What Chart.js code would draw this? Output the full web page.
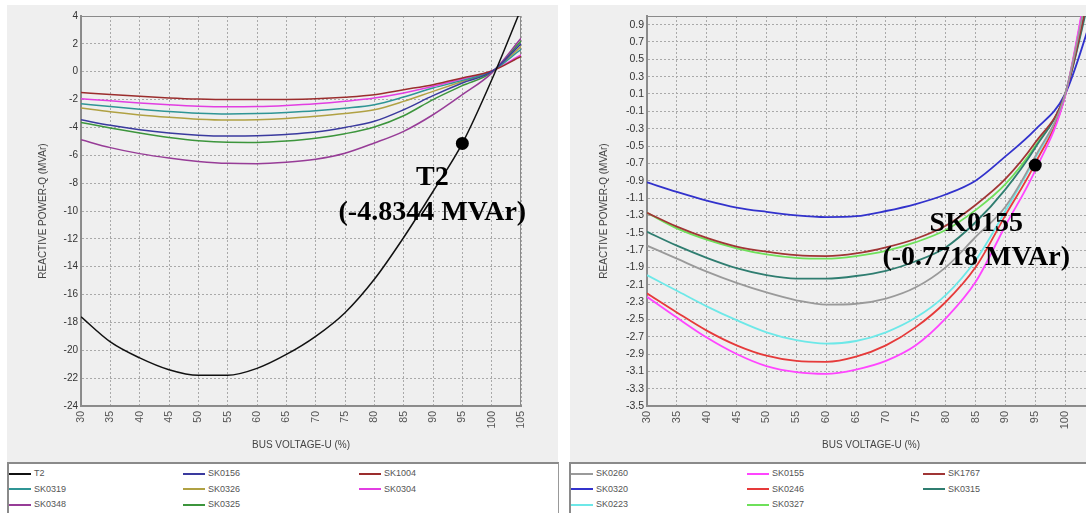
<!DOCTYPE html>
<html>
<head>
<meta charset="utf-8">
<script src="https://cdn.jsdelivr.net/npm/chart.js@4.4.1/dist/chart.umd.min.js"></script>
<style>
  html, body { margin: 0; padding: 0; background: #fff; width: 1086px; height: 513px; overflow: hidden; position: relative; font-family: Arial, "Liberation Sans", sans-serif; }
  .panel { position: absolute; top: 5px; height: 457px; background: #efefef; }
  #leftPanel { left: 7px; width: 551px; }
  #rightPanel { left: 570px; width: 560px; }
  canvas { position: absolute; left: 0; top: 0; }
  .legend { position: absolute; top: 462px; height: 60px; background: #fff; border-top: 2px solid #8a8a8a; border-left: 2px solid #8a8a8a; box-sizing: border-box; }
  #leftLegend { left: 7px; width: 552px; border-right: 1px solid #999; }
  #rightLegend { left: 569px; width: 530px; }
  .item { position: absolute; height: 12px; line-height: 12px; font-size: 9px; color: #555; white-space: nowrap; }
  .swatch { display: inline-block; width: 22px; height: 2px; vertical-align: middle; margin-right: 3px; }
</style>
</head>
<body>
<div class="panel" id="leftPanel"><canvas id="leftChart" width="551" height="457"></canvas></div>
<div class="panel" id="rightPanel"><canvas id="rightChart" width="560" height="457"></canvas></div>
<div class="legend" id="leftLegend"></div>
<div class="legend" id="rightLegend"></div>
<script>
// Tensión de barra (%) - eje X común
const voltages = [30, 35, 40, 45, 50, 55, 60, 65, 70, 75, 80, 85, 90, 95, 100, 105];

// Panel izquierdo (MVAr)
const leftNames = ["T2", "SK0156", "SK1004", "SK0319", "SK0326", "SK0304", "SK0348", "SK0325"];
const leftColors = ["#111111", "#3a3a9e", "#9b2d2d", "#2f9595", "#b0a143", "#e23ee2", "#973c97", "#3c953c"];
const t2     = [-17.6, -19.4, -20.55, -21.4, -21.8, -21.8, -21.3, -20.3, -19.0, -17.3, -14.9, -11.9, -8.6, -5.15, -0.6, 4.5];
const sk0156 = [-3.45, -3.85, -4.16, -4.4, -4.56, -4.62, -4.6, -4.5, -4.33, -4.0, -3.56, -2.73, -1.72, -0.81, 0.0, 2.0];
const sk1004 = [-1.49, -1.64, -1.77, -1.88, -1.96, -2.0, -2.0, -1.99, -1.94, -1.83, -1.65, -1.29, -0.93, -0.45, 0.05, 1.1];
const sk0319 = [-2.3, -2.5, -2.69, -2.86, -2.98, -3.03, -3.0, -2.92, -2.8, -2.62, -2.37, -1.82, -1.17, -0.62, 0.02, 1.6];
const sk0326 = [-2.6, -2.88, -3.1, -3.27, -3.41, -3.47, -3.45, -3.36, -3.2, -3.0, -2.73, -2.13, -1.41, -0.7, 0.0, 1.8];
const sk0304 = [-1.94, -2.09, -2.25, -2.38, -2.48, -2.52, -2.5, -2.42, -2.3, -2.12, -1.89, -1.53, -1.05, -0.53, 0.05, 1.2];
const sk0348 = [-4.88, -5.45, -5.88, -6.2, -6.44, -6.58, -6.6, -6.5, -6.28, -5.85, -5.12, -4.28, -3.09, -1.65, -0.1, 2.4];
const sk0325 = [-3.64, -4.04, -4.4, -4.72, -4.96, -5.07, -5.08, -4.98, -4.78, -4.45, -3.97, -3.16, -2.0, -1.0, -0.05, 2.2];
const leftSeries = [t2, sk0156, sk1004, sk0319, sk0326, sk0304, sk0348, sk0325];
const leftTicks = [4, 2, 0, -2, -4, -6, -8, -10, -12, -14, -16, -18, -20, -22, -24];
const leftMark = { x: 95, y: -5.15 };
const leftLabel = ["T2", "(-4.8344 MVAr)"];

// Panel derecho (MVAr)
const rightNames = ["SK0260", "SK0155", "SK1767", "SK0320", "SK0246", "SK0315", "SK0223", "SK0327"];
const rightColors = ["#9a9a9a", "#ff45ff", "#a03535", "#3232cc", "#e63a3a", "#2f7d70", "#6de8e8", "#6ee05a"];
const sk0260 = [-1.65, -1.8, -1.95, -2.08, -2.19, -2.28, -2.33, -2.32, -2.26, -2.13, -1.9, -1.55, -1.2, -0.62, 0.1, 1.75];
const sk0155 = [-2.24, -2.48, -2.71, -2.9, -3.04, -3.11, -3.13, -3.08, -2.98, -2.8, -2.49, -2.07, -1.42, -0.78, 0.08, 1.9];
const sk1767 = [-1.27, -1.43, -1.56, -1.66, -1.72, -1.76, -1.77, -1.74, -1.67, -1.57, -1.42, -1.18, -0.88, -0.46, 0.1, 1.6];
const sk0320 = [-0.92, -1.03, -1.13, -1.21, -1.26, -1.3, -1.32, -1.31, -1.25, -1.17, -1.06, -0.9, -0.62, -0.31, 0.1, 1.1];
const sk0246 = [-2.2, -2.42, -2.63, -2.8, -2.92, -2.98, -2.99, -2.93, -2.8, -2.59, -2.3, -1.9, -1.3, -0.7, 0.08, 1.85];
const sk0315 = [-1.49, -1.65, -1.79, -1.91, -1.99, -2.03, -2.03, -2.0, -1.94, -1.83, -1.67, -1.38, -1.0, -0.52, 0.1, 1.5];
const sk0223 = [-1.99, -2.17, -2.35, -2.51, -2.65, -2.74, -2.78, -2.75, -2.65, -2.48, -2.22, -1.82, -1.25, -0.64, 0.08, 1.8];
const sk0327 = [-1.27, -1.45, -1.58, -1.68, -1.75, -1.79, -1.8, -1.77, -1.71, -1.61, -1.47, -1.24, -0.94, -0.5, 0.1, 1.55];
const rightSeries = [sk0260, sk0155, sk1767, sk0320, sk0246, sk0315, sk0223, sk0327];
const rightTicks = [0.9, 0.7, 0.5, 0.3, 0.1, -0.1, -0.3, -0.5, -0.7, -0.9, -1.1, -1.3, -1.5, -1.7, -1.9, -2.1, -2.3, -2.5, -2.7, -2.9, -3.1, -3.3, -3.5];
const rightMark = { x: 95, y: -0.72 };
const rightLabel = ["SK0155", "(-0.7718 MVAr)"];

Chart.defaults.font.family = 'Arial, "Liberation Sans", sans-serif';

// Marco del área de trazado
const framePlugin = {
  id: "frame",
  beforeDatasetsDraw(chart) {
    const { ctx, chartArea: a } = chart;
    ctx.save();
    ctx.strokeStyle = "#8a8a8a";
    ctx.lineWidth = 1;
    ctx.strokeRect(a.left + 0.5, a.top + 0.5, a.right - a.left - 1, a.bottom - a.top - 1);
    ctx.restore();
  }
};

// Texto de anotación junto al punto marcado
const markLabelPlugin = {
  id: "markLabel",
  afterDatasetsDraw(chart, args, opts) {
    const { ctx, scales } = chart;
    const px = scales.x.getPixelForValue(opts.at.x);
    const py = scales.y.getPixelForValue(opts.at.y);
    ctx.save();
    ctx.font = 'bold 28px "Liberation Serif", "Times New Roman", serif';
    ctx.fillStyle = "#000";
    ctx.textAlign = "center";
    ctx.textBaseline = "middle";
    opts.lines.forEach((t, i) => ctx.fillText(t, px + opts.dx, py + opts.dy + i * opts.gap));
    ctx.restore();
  }
};

function crearGrafico(id, names, colors, series, yTicks, yMin, yMax, yFmt, mark, label, cfg) {
  const datasets = series.map((s, i) => ({
    label: names[i],
    data: s.map((v, j) => ({ x: voltages[j], y: v })),
    borderColor: colors[i],
    borderWidth: cfg.lineWidth,
    pointRadius: 0,
    cubicInterpolationMode: "monotone",
    fill: false
  }));
  datasets.push({
    label: "mark",
    data: [mark],
    order: -1,
    showLine: false,
    pointRadius: 6.5,
    pointBackgroundColor: "#000",
    pointBorderColor: "#000",
    pointBorderWidth: 0
  });

  const grid = { color: "#a9a9a9", lineWidth: 1, drawTicks: false };
  const border = { color: "#8c8c8c", width: 2, dash: [2, 2] };

  return new Chart(document.getElementById(id), {
    type: "line",
    data: { datasets },
    plugins: [framePlugin, markLabelPlugin],
    options: {
      responsive: false,
      animation: false,
      events: [],
      layout: { padding: { left: 0, top: 11, right: cfg.padRight, bottom: 0 } },
      plugins: {
        legend: { display: false },
        tooltip: { enabled: false },
        markLabel: { at: mark, lines: label, dx: cfg.dx, dy: cfg.dy, gap: cfg.gap }
      },
      scales: {
        x: {
          type: "linear",
          min: 30,
          max: 105,
          afterBuildTicks: (s) => { s.ticks = voltages.map((v) => ({ value: v })); },
          afterFit: (s) => { s.height = 56; },
          ticks: { autoSkip: false, minRotation: 90, maxRotation: 90, padding: 5, color: "#555", font: { size: cfg.xFont } },
          grid,
          border,
          title: { display: true, text: "BUS VOLTAGE-U (%)", color: "#444", font: { size: 10 }, padding: { top: 0, bottom: 11 } }
        },
        y: {
          type: "linear",
          min: yMin,
          max: yMax,
          afterBuildTicks: (s) => { s.ticks = yTicks.map((v) => ({ value: v })); },
          afterFit: (s) => { s.width = cfg.yWidth; },
          ticks: { autoSkip: false, padding: 3, color: "#333", font: { size: cfg.yFont }, callback: yFmt },
          grid,
          border,
          title: { display: true, text: "REACTIVE POWER-Q (MVAr)", color: "#444", font: { size: 10 }, padding: { top: cfg.titlePad, bottom: 0 } }
        }
      }
    }
  });
}

crearGrafico("leftChart", leftNames, leftColors, leftSeries, leftTicks, -24, 4,
  (v) => String(v), leftMark, leftLabel,
  { lineWidth: 1.5, padRight: 37, yWidth: 74, titlePad: 30, dx: -30, dy: 34, gap: 35, xFont: 10.5, yFont: 10 });

crearGrafico("rightChart", rightNames, rightColors, rightSeries, rightTicks, -3.5, 1.0,
  (v) => v.toFixed(1), rightMark, rightLabel,
  { lineWidth: 1.8, padRight: 35, yWidth: 77, titlePad: 28, dx: -59, dy: 59, gap: 34, xFont: 11, yFont: 10.5 });

// Leyendas en HTML (3 columnas)
function crearLeyenda(id, names, colors, cols) {
  const box = document.getElementById(id);
  names.forEach((n, i) => {
    const item = document.createElement("div");
    item.className = "item";
    item.style.left = cols[i % 3] + "px";
    item.style.top = (3 + Math.floor(i / 3) * 15.5) + "px";
    item.innerHTML = `<span class="swatch" style="background:${colors[i]}"></span>${n}`;
    box.appendChild(item);
  });
}

crearLeyenda("leftLegend", leftNames, leftColors, [0, 174, 350]);
crearLeyenda("rightLegend", rightNames, rightColors, [0, 176, 352]);
</script>
</body>
</html>
